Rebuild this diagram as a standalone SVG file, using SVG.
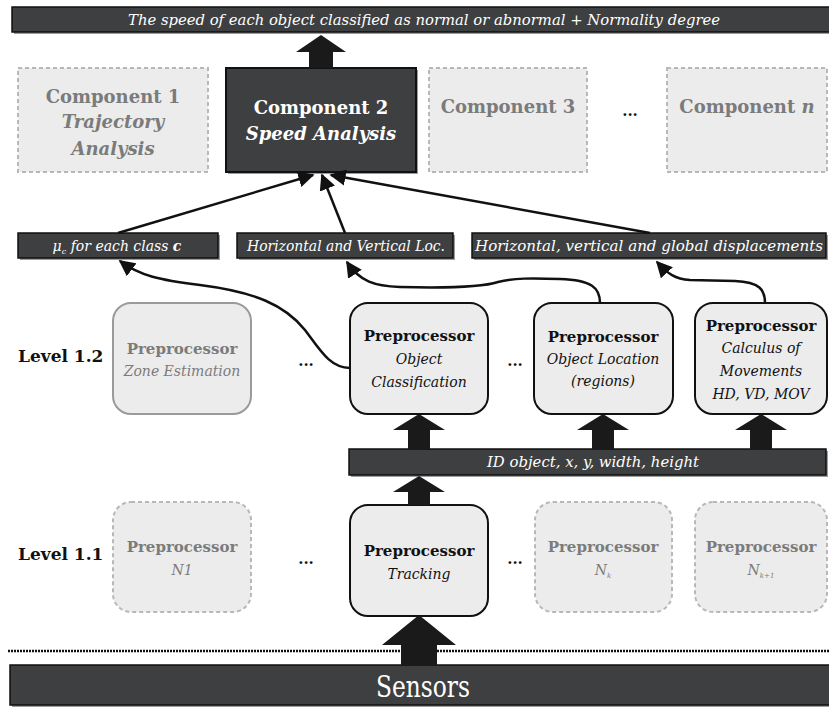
<svg xmlns="http://www.w3.org/2000/svg" width="829" height="710" viewBox="0 0 829 710">
  <style>
    text { font-family: "DejaVu Serif", "Liberation Serif", serif; text-anchor: middle; }
    .bar { fill: #3e3f41; stroke: #111; stroke-width: 1.5; }
    .shadow { fill: #9c9c9c; }
    .bartxt { fill: #fff; font-style: italic; font-size: 14px; }
    .ghost { fill: #ececec; stroke: #b8b8b8; stroke-width: 2; stroke-dasharray: 4 3; }
    .ghost-solid { fill: #ececec; stroke: #9a9a9a; stroke-width: 2; }
    .active { fill: #ececec; stroke: #111; stroke-width: 2; }
    .dark { fill: #3e3f41; stroke: #111; stroke-width: 2; }
    .grey { fill: #7b7b7b; }
    .blk { fill: #111; }
    .ttl { font-weight: bold; font-size: 18px; }
    .ttli { font-weight: bold; font-style: italic; font-size: 18px; }
    .pp { font-weight: bold; font-size: 15px; }
    .sub { font-style: italic; font-size: 14px; }
    .lvl { font-weight: bold; font-size: 17px; fill: #111; text-anchor: start; }
    .dots { font-weight: bold; font-size: 15px; fill: #111; }
    .fat { fill: #1a1a1a; }
    .wire { fill: none; stroke: #111; stroke-width: 2.5; marker-end: url(#tip); }
  </style>
  <defs>
    <marker id="tip" viewBox="0 0 10 10" refX="9" refY="5" markerWidth="6.5" markerHeight="6.5" markerUnits="strokeWidth" orient="auto">
      <path d="M0,0 L10,5 L0,10 z" fill="#111"/>
    </marker>
  </defs>

  <!-- output bar -->
  <g id="output">
    <rect class="shadow" x="14" y="9" width="820" height="25"/>
    <rect class="bar" x="12" y="7" width="820" height="25"/>
    <text class="bartxt" x="424" y="25" textLength="592" lengthAdjust="spacingAndGlyphs">The speed of each object classified as normal or abnormal + Normality degree</text>
  </g>

  <!-- components -->
  <g id="component1">
    <rect class="ghost" x="18" y="68" width="190" height="104"/>
    <text class="ttl grey" x="113" y="103">Component 1</text>
    <text class="ttli grey" x="113" y="128">Trajectory</text>
    <text class="ttli grey" x="113" y="155">Analysis</text>
  </g>
  <g id="component2">
    <rect class="shadow" x="228" y="70" width="190" height="104"/>
    <rect class="dark" x="226" y="68" width="190" height="104"/>
    <text class="ttl" fill="#fff" x="321" y="114">Component 2</text>
    <text class="ttli" fill="#fff" x="321" y="140">Speed Analysis</text>
  </g>
  <g id="component3">
    <rect class="ghost" x="429" y="68" width="158" height="104"/>
    <text class="ttl grey" x="508" y="113">Component 3</text>
  </g>
  <text class="dots" x="630" y="116">...</text>
  <g id="componentN">
    <rect class="ghost" x="667" y="68" width="160" height="104"/>
    <text class="ttl grey" x="747" y="113">Component <tspan font-style="italic">n</tspan></text>
  </g>

  <!-- intermediate data bars -->
  <g id="label-mu">
    <rect class="shadow" x="20" y="235" width="200" height="25"/>
    <rect class="bar" x="18" y="233" width="200" height="25"/>
    <text class="bartxt" x="117" y="251" font-size="15">μ<tspan font-size="8" dy="3">c</tspan><tspan dy="-3"> for each class </tspan><tspan font-weight="bold">c</tspan></text>
  </g>
  <g id="label-loc">
    <rect class="shadow" x="239" y="235" width="216" height="25"/>
    <rect class="bar" x="237" y="233" width="216" height="25"/>
    <text class="bartxt" x="346" y="251" textLength="198" lengthAdjust="spacingAndGlyphs">Horizontal and Vertical Loc.</text>
  </g>
  <g id="label-disp">
    <rect class="shadow" x="474" y="235" width="354" height="25"/>
    <rect class="bar" x="472" y="233" width="354" height="25"/>
    <text class="bartxt" x="649" y="251" font-size="15.5" textLength="348" lengthAdjust="spacingAndGlyphs">Horizontal, vertical and global displacements</text>
  </g>

  <!-- level 1.2 -->
  <text class="lvl" x="18" y="362">Level 1.2</text>
  <g id="pp-zone">
    <rect class="ghost-solid" x="113" y="303" width="138" height="111" rx="18"/>
    <text class="pp grey" x="182" y="354">Preprocessor</text>
    <text class="sub grey" x="182" y="376">Zone Estimation</text>
  </g>
  <text class="dots" x="306" y="366">...</text>
  <g id="pp-class">
    <rect class="active" x="350" y="303" width="138" height="111" rx="18"/>
    <text class="pp blk" x="419" y="341">Preprocessor</text>
    <text class="sub blk" x="419" y="364">Object</text>
    <text class="sub blk" x="419" y="387">Classification</text>
  </g>
  <text class="dots" x="515" y="366">...</text>
  <g id="pp-location">
    <rect class="active" x="534" y="303" width="139" height="111" rx="18"/>
    <text class="pp blk" x="603" y="342">Preprocessor</text>
    <text class="sub blk" x="603" y="364">Object Location</text>
    <text class="sub blk" x="603" y="386">(regions)</text>
  </g>
  <g id="pp-movements">
    <rect class="active" x="695" y="303" width="132" height="111" rx="18"/>
    <text class="pp blk" x="761" y="331">Preprocessor</text>
    <text class="sub blk" x="761" y="353">Calculus of</text>
    <text class="sub blk" x="761" y="376">Movements</text>
    <text class="sub blk" x="761" y="399">HD, VD, MOV</text>
  </g>

  <!-- tracking output bar -->
  <g id="label-track">
    <rect class="shadow" x="351" y="451" width="477" height="26"/>
    <rect class="bar" x="349" y="449" width="477" height="26"/>
    <text class="bartxt" x="593" y="467" font-size="15" textLength="212" lengthAdjust="spacingAndGlyphs">ID object, x, y, width, height</text>
  </g>

  <!-- level 1.1 -->
  <text class="lvl" x="18" y="560">Level 1.1</text>
  <g id="pp-n1">
    <rect class="ghost" x="113" y="502" width="138" height="110" rx="18"/>
    <text class="pp grey" x="182" y="552">Preprocessor</text>
    <text class="sub grey" x="182" y="575">N1</text>
  </g>
  <text class="dots" x="306" y="564">...</text>
  <g id="pp-tracking">
    <rect class="active" x="350" y="505" width="138" height="111" rx="18"/>
    <text class="pp blk" x="419" y="556">Preprocessor</text>
    <text class="sub blk" x="419" y="579">Tracking</text>
  </g>
  <text class="dots" x="515" y="564">...</text>
  <g id="pp-nk">
    <rect class="ghost" x="535" y="502" width="137" height="110" rx="18"/>
    <text class="pp grey" x="603" y="552">Preprocessor</text>
    <text class="sub grey" x="603" y="575">N<tspan font-size="7" dy="3">k</tspan></text>
  </g>
  <g id="pp-nk1">
    <rect class="ghost" x="695" y="502" width="132" height="110" rx="18"/>
    <text class="pp grey" x="761" y="552">Preprocessor</text>
    <text class="sub grey" x="761" y="575">N<tspan font-size="7" dy="3">k+1</tspan></text>
  </g>

  <!-- sensing layer -->
  <line x1="8" y1="651" x2="829" y2="651" stroke="#111" stroke-width="2.5" stroke-dasharray="2 1"/>
  <g id="sensors">
    <rect class="shadow" x="12" y="667" width="820" height="40"/>
    <rect class="bar" x="10" y="665" width="820" height="40"/>
    <text x="423" y="697" fill="#fff" font-family="Liberation Serif, serif" font-size="30" textLength="94" lengthAdjust="spacingAndGlyphs">Sensors</text>
  </g>

  <!-- connectors -->
  <g id="connectors">
    <!-- block arrows -->
    <path class="fat" d="M321,35 L346,52 L333,52 L333,68 L309,68 L309,52 L296,52 Z"/>
    <path class="fat" d="M419,414 L445,430 L430,430 L430,450 L408,450 L408,430 L393,430 Z"/>
    <path class="fat" d="M603,414 L629,430 L614,430 L614,450 L592,450 L592,430 L577,430 Z"/>
    <path class="fat" d="M761,414 L787,430 L772,430 L772,450 L750,450 L750,430 L735,430 Z"/>
    <path class="fat" d="M419,476 L445,492 L430,492 L430,505 L408,505 L408,492 L393,492 Z"/>
    <path class="fat" d="M419,615 L456,645 L437,645 L437,665 L401,665 L401,645 L382,645 Z"/>
    <!-- data flow into component 2 -->
    <path class="wire" d="M118,233 L313,175"/>
    <path class="wire" d="M345,233 L322,175"/>
    <path class="wire" d="M650,233 L331,175"/>
    <!-- preprocessor outputs -->
    <path class="wire" d="M350,368 C330,368 320,350 305,330 C285,305 255,292 200,285 C160,280 140,276 120,261"/>
    <path class="wire" d="M600,303 C600,288 592,280 560,279 C530,278 515,278 498,282 C480,288 440,288 400,287 C375,286 360,282 347,262"/>
    <path class="wire" d="M765,303 C765,290 760,282 735,281 L690,280 C675,279 668,274 657,262"/>
  </g>
</svg>
